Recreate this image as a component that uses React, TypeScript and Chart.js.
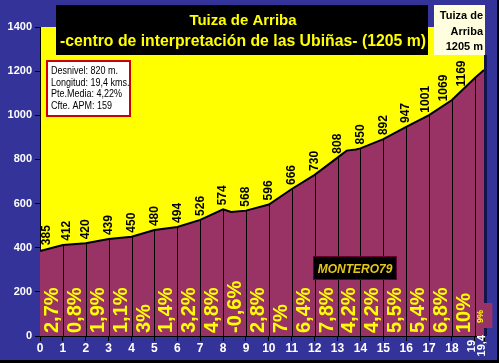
import React, { useEffect, useRef } from "react";
import { Chart, registerables } from "chart.js";
Chart.register(...registerables);

// ---- data ----
const kms = [0, 1, 2, 3, 4, 5, 6, 7, 8, 9, 10, 11, 12, 13, 14, 15, 16, 17, 18, 19, 19.4];
const elevations = [385, 412, 420, 439, 450, 480, 494, 526, 574, 568, 596, 666, 730, 808, 850, 892, 947, 1001, 1069, 1169, 1205];
// extra shape points of the profile
const shapeKms = [8.35, 13.4, 13.8];
const shapeElevations = [562, 840, 845];
const gradients = ["2,7%", "0,8%", "1,9%", "1,1%", "3%", "1,4%", "3,2%", "4,8%", "-0,6%", "2,8%", "7%", "6,4%", "7,8%", "4,2%", "4,2%", "5,5%", "5,4%", "6,8%", "10%", "9%"];
const xTickValues = [0, 1, 2, 3, 4, 5, 6, 7, 8, 9, 10, 11, 12, 13, 14, 15, 16, 17, 18, 19, 19.4];
const xTickLabels = ["0", "1", "2", "3", "4", "5", "6", "7", "8", "9", "10", "11", "12", "13", "14", "15", "16", "17", "18", "19", "19,4"];
const titleLines = ["Tuiza de Arriba", "-centro de interpretación de las Ubiñas- (1205 m)"];
const infoLines = ["Desnivel: 820 m.", "Longitud: 19,4 kms.", "Pte.Media: 4,22%", "Cfte. APM: 159"];
const summitLines = ["Tuiza de", "Arriba", "1205 m"];
const signature = "MONTERO79";

const FONT = "'Liberation Sans', Arial, sans-serif";
const BLUE = "#333399";
const YELLOW = "#FFFF00";
const MAROON = "#993366";

const profile = [
  ...kms.map((k, i) => ({ x: k, y: elevations[i] })),
  ...shapeKms.map((k, i) => ({ x: k, y: shapeElevations[i] })),
].sort((a, b) => a.x - b.x);

function lineElevAt(km: number) {
  for (let i = 0; i < profile.length - 1; i++) {
    const a = profile[i], b = profile[i + 1];
    if (km >= a.x && km <= b.x) return a.y + ((b.y - a.y) * (km - a.x)) / (b.x - a.x);
  }
  return km < profile[0].x ? profile[0].y : profile[profile.length - 1].y;
}

const profilePlugin = {
  id: "profilePlugin",
  beforeDraw(chart: any) {
    const { ctx, chartArea: a, width, height } = chart;
    ctx.save();
    ctx.fillStyle = BLUE;
    ctx.fillRect(0, 0, width, height);
    ctx.fillStyle = "#000";
    ctx.fillRect(0, 360, width, height - 360);
    ctx.fillRect(497, 0, width - 497, height);
    ctx.fillStyle = YELLOW;
    ctx.fillRect(a.left, a.top, a.right - a.left, a.bottom - a.top);
    ctx.restore();
  },
  afterDatasetsDraw(chart: any) {
    const { ctx, chartArea: a } = chart;
    const xs = chart.scales.x, ys = chart.scales.y;
    const y0 = ys.getPixelForValue(0);
    ctx.save();
    // vertical km lines
    ctx.strokeStyle = "#000";
    ctx.lineWidth = 1;
    kms.forEach((k, i) => {
      if (i === 0) return;
      const x = Math.round(xs.getPixelForValue(k)) + 0.5;
      ctx.beginPath();
      ctx.moveTo(x, ys.getPixelForValue(elevations[i]));
      ctx.lineTo(x, y0);
      ctx.stroke();
    });
    // dark stripe on the right edge
    ctx.fillStyle = "#14144d";
    ctx.fillRect(a.right, 55, 3, a.bottom - 55);

    // elevation labels
    ctx.font = `bold 12px ${FONT}`;
    ctx.fillStyle = "#000";
    ctx.textAlign = "left";
    ctx.textBaseline = "middle";
    const n = kms.length;
    kms.forEach((k, i) => {
      if (i === n - 1) return;
      let dx = 0;
      if (i === 0) dx = 7;
      else if (i === 1) dx = 4;
      else if (i === n - 4) dx = -3;
      else if (i === n - 3) dx = -8;
      else if (i === n - 2) dx = -13;
      const px = xs.getPixelForValue(k) + dx;
      const km = xs.getValueForPixel(px);
      const py = ys.getPixelForValue(lineElevAt(km)) - 4;
      ctx.save();
      ctx.translate(px, py);
      ctx.rotate(-Math.PI / 2);
      ctx.fillText(String(elevations[i]), 0, 0);
      ctx.restore();
    });

    // gradient labels
    gradients.forEach((g, i) => {
      const xm = (xs.getPixelForValue(kms[i]) + xs.getPixelForValue(kms[i + 1])) / 2;
      const last = i === gradients.length - 1;
      if (last) {
        ctx.fillStyle = MAROON;
        ctx.fillRect(xm - 3, 303, 16, 25);
      }
      ctx.save();
      ctx.translate(xm, last ? 323 : 333);
      ctx.rotate(-Math.PI / 2);
      ctx.fillStyle = YELLOW;
      ctx.textAlign = "left";
      ctx.textBaseline = "middle";
      ctx.font = last ? `bold 9px ${FONT}` : `bold 20px ${FONT}`;
      ctx.fillText(g, 0, 1);
      ctx.restore();
    });

    // rotated x labels at the end
    ctx.fillStyle = "#fff";
    ctx.font = `bold 11px ${FONT}`;
    ctx.textBaseline = "middle";
    ctx.textAlign = "right";
    [19, 20].forEach((idx) => {
      const x = xs.getPixelForValue(xTickValues[idx]);
      ctx.save();
      ctx.translate(idx === 19 ? x - 3 : x - 2, idx === 19 ? 340 : 335);
      ctx.rotate(-Math.PI / 2);
      ctx.fillText(xTickLabels[idx], 0, 0);
      ctx.restore();
    });

    // title box
    ctx.fillStyle = "#000";
    ctx.fillRect(56, 5, 372, 50);
    ctx.fillStyle = YELLOW;
    ctx.textAlign = "center";
    ctx.textBaseline = "alphabetic";
    ctx.font = `bold 15px ${FONT}`;
    ctx.fillText(titleLines[0], 243, 25);
    ctx.font = `bold 15.8px ${FONT}`;
    ctx.fillText(titleLines[1], 243, 46);

    // summit box
    ctx.fillStyle = "#FFFFE0";
    ctx.fillRect(434, 5, 51, 50);
    ctx.fillStyle = "#000";
    ctx.textAlign = "right";
    ctx.font = `bold 11px ${FONT}`;
    summitLines.forEach((t, i) => ctx.fillText(t, 483, 19 + i * 15.5));

    // info box
    ctx.fillStyle = "#fff";
    ctx.fillRect(46, 60, 85, 57);
    ctx.strokeStyle = "#CC0000";
    ctx.lineWidth = 2;
    ctx.strokeRect(47, 61, 83, 55);
    ctx.fillStyle = "#000";
    ctx.textAlign = "left";
    ctx.font = `10px ${FONT}`;
    infoLines.forEach((t, i) => {
      ctx.save();
      ctx.translate(51, 74 + i * 11.7);
      ctx.scale(0.9, 1);
      ctx.fillText(t, 0, 0);
      ctx.restore();
    });

    // signature box
    ctx.fillStyle = "#000";
    ctx.fillRect(313, 256, 84, 24);
    ctx.strokeStyle = "#660033";
    ctx.lineWidth = 1;
    ctx.strokeRect(313.5, 256.5, 83, 23);
    ctx.fillStyle = "#E6C619";
    ctx.textAlign = "center";
    ctx.font = `italic bold 12px ${FONT}`;
    ctx.fillText(signature, 355, 273);
    ctx.restore();
  },
};

export default function App() {
  const ref = useRef<HTMLCanvasElement | null>(null);
  useEffect(() => {
    document.body.style.margin = "0";
    const canvas = ref.current!;
    const chart = new Chart(canvas, {
      type: "line",
      data: {
        datasets: [
          {
            data: profile,
            borderColor: "#000",
            borderWidth: 2,
            backgroundColor: MAROON,
            fill: "origin",
            pointRadius: 0,
            tension: 0,
          },
        ],
      },
      options: {
        responsive: false,
        animation: false,
        events: [],
        layout: { padding: { top: 27, right: 15, left: 0, bottom: 0 } },
        plugins: { legend: { display: false }, tooltip: { enabled: false }, title: { display: false } },
        scales: {
          x: {
            type: "linear",
            min: 0,
            max: 19.4,
            afterBuildTicks: (s: any) => {
              s.ticks = xTickValues.map((v) => ({ value: v }));
            },
            afterFit: (s: any) => {
              s.height = 27;
            },
            grid: { drawOnChartArea: false, color: "#000", tickLength: 5 },
            border: { color: "#000", width: 1 },
            ticks: {
              color: "#fff",
              font: { family: FONT, size: 12, weight: "bold" },
              padding: 0,
              maxRotation: 0,
              minRotation: 0,
              autoSkip: false,
              callback: (v: any) => {
                const idx = xTickValues.indexOf(Number(v));
                return idx >= 19 || idx < 0 ? "" : xTickLabels[idx];
              },
            },
          },
          y: {
            min: 0,
            max: 1400,
            afterFit: (s: any) => {
              s.width = 40;
            },
            grid: { drawOnChartArea: false, color: "#000", tickLength: 5 },
            border: { color: "#000", width: 1 },
            ticks: {
              stepSize: 200,
              color: "#fff",
              font: { family: FONT, size: 11, weight: "bold" },
              padding: 3,
              callback: (v: any) => String(v),
            },
          },
        },
      },
      plugins: [profilePlugin],
    } as any);
    return () => chart.destroy();
  }, []);
  return (
    <div style={{ width: 499, height: 363 }}>
      <canvas ref={ref} width={499} height={363} style={{ display: "block" }} />
    </div>
  );
}
